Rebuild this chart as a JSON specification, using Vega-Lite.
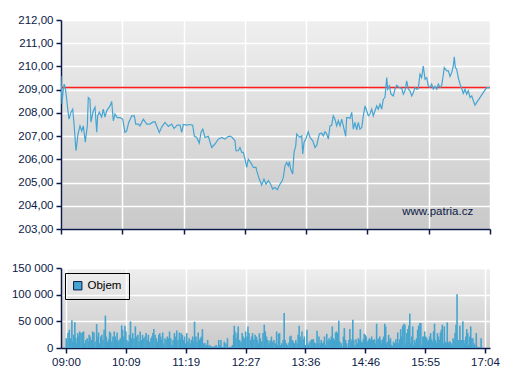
{
  "$schema": "https://vega.github.io/schema/vega-lite/v6.json",
  "padding": {"left": 11, "top": 14, "right": 9, "bottom": 5},
  "background": "white",
  "spacing": 27,
  "config": {
    "font": "Liberation Sans",
    "view": {"stroke": null, "fill": {"gradient": "linear", "x1": 0, "y1": 0, "x2": 0, "y2": 1, "stops": [{"offset": 0, "color": "#efefef"}, {"offset": 1, "color": "#c9c9c9"}]}},
    "axis": {"labelFont": "Liberation Sans", "labelFontSize": 11.5, "labelColor": "#0b1a48", "domainColor": "#0b1a48", "domainWidth": 1.5, "tickColor": "#0b1a48", "tickWidth": 1.5, "tickSize": 5, "gridColor": "#ffffff", "gridWidth": 1.5, "gridOpacity": 1, "title": null, "labelPadding": 3, "labelOverlap": false}
  },
  "datasets": {
    "price": [
      {"m":0,"p":209.59},{"m":1.1,"p":208.38},{"m":2.6,"p":209.02},{"m":3.7,"p":209.24},{"m":5.3,"p":208.95},{"m":6.4,"p":208.6},{"m":7.6,"p":208.16},{"m":9.0,"p":207.73},{"m":11.3,"p":208.03},{"m":13.2,"p":208.16},{"m":14.7,"p":207.52},{"m":16.9,"p":206.37},{"m":18.1,"p":206.74},{"m":19.2,"p":207.09},{"m":21.4,"p":207.44},{"m":23.4,"p":207.22},{"m":25.2,"p":207.44},{"m":27.4,"p":206.74},{"m":29.7,"p":207.44},{"m":30.8,"p":208.66},{"m":32.7,"p":208.59},{"m":33.8,"p":207.6},{"m":36.4,"p":208.09},{"m":38.4,"p":208.24},{"m":40.3,"p":207.17},{"m":41.4,"p":207.87},{"m":43.2,"p":208.03},{"m":45.9,"p":207.82},{"m":47.7,"p":208.16},{"m":49.6,"p":207.82},{"m":51.5,"p":208.09},{"m":55.3,"p":208.30},{"m":57.2,"p":208.49},{"m":59.0,"p":207.66},{"m":60.9,"p":207.95},{"m":63.5,"p":207.8},{"m":66.6,"p":207.8},{"m":69.6,"p":207.73},{"m":72.2,"p":207.16},{"m":74.1,"p":207.22},{"m":76.4,"p":207.59},{"m":79.8,"p":207.87},{"m":82.7,"p":207.87},{"m":84.3,"p":207.52},{"m":87.2,"p":207.52},{"m":89.1,"p":207.44},{"m":92.9,"p":207.73},{"m":96.7,"p":207.52},{"m":100.4,"p":207.52},{"m":103.5,"p":207.6},{"m":106.1,"p":207.62},{"m":110.9,"p":207.16},{"m":113.6,"p":207.39},{"m":117.3,"p":207.59},{"m":121.1,"p":207.42},{"m":124.9,"p":207.52},{"m":127.5,"p":207.33},{"m":131.2,"p":207.47},{"m":134.3,"p":207.47},{"m":136.2,"p":207.16},{"m":138.0,"p":207.5},{"m":141.8,"p":207.47},{"m":145.5,"p":207.5},{"m":148.6,"p":207.47},{"m":150.4,"p":207.0},{"m":153.1,"p":206.94},{"m":156.0,"p":206.7},{"m":157.9,"p":207.16},{"m":159.9,"p":207.3},{"m":162.5,"p":206.94},{"m":166.2,"p":206.99},{"m":170.0,"p":206.51},{"m":173.7,"p":206.66},{"m":177.5,"p":206.87},{"m":181.3,"p":206.94},{"m":185.0,"p":206.87},{"m":188.1,"p":206.97},{"m":190.7,"p":207.0},{"m":193.3,"p":206.94},{"m":196.3,"p":206.8},{"m":197.4,"p":206.37},{"m":200.0,"p":206.37},{"m":201.9,"p":206.51},{"m":203.9,"p":206.3},{"m":205.7,"p":206.3},{"m":207.6,"p":206.01},{"m":209.5,"p":205.65},{"m":211.3,"p":206.01},{"m":214.0,"p":205.87},{"m":217.0,"p":205.65},{"m":220.0,"p":205.65},{"m":220.8,"p":205.51},{"m":223.7,"p":205.15},{"m":226.4,"p":204.89},{"m":229.0,"p":205.15},{"m":231.3,"p":204.93},{"m":233.9,"p":205.08},{"m":236.6,"p":204.93},{"m":238.8,"p":204.72},{"m":241.4,"p":204.79},{"m":244.0,"p":204.69},{"m":247.1,"p":204.94},{"m":249.0,"p":205.03},{"m":250.8,"p":205.22},{"m":252.7,"p":205.72},{"m":254.6,"p":205.87},{"m":256.4,"p":205.72},{"m":257.6,"p":205.9},{"m":259.1,"p":205.58},{"m":261.4,"p":205.37},{"m":262.9,"p":206.3},{"m":264.8,"p":206.58},{"m":265.9,"p":207.09},{"m":267.7,"p":207.01},{"m":269.6,"p":206.94},{"m":271.6,"p":207.01},{"m":272.7,"p":206.23},{"m":274.2,"p":206.73},{"m":276.4,"p":206.9},{"m":279.0,"p":207.19},{"m":280.9,"p":206.94},{"m":284.0,"p":206.8},{"m":286.6,"p":206.51},{"m":288.5,"p":206.61},{"m":291.4,"p":207.09},{"m":294.1,"p":207.13},{"m":295.9,"p":207.01},{"m":297.8,"p":207.19},{"m":299.8,"p":207.09},{"m":301.6,"p":206.87},{"m":303.5,"p":207.44},{"m":305.4,"p":207.47},{"m":307.2,"p":207.87},{"m":309.1,"p":207.73},{"m":311.0,"p":207.44},{"m":312.9,"p":207.66},{"m":314.8,"p":207.44},{"m":316.7,"p":207.73},{"m":318.5,"p":207.44},{"m":321.2,"p":206.99},{"m":322.3,"p":207.8},{"m":324.1,"p":207.8},{"m":326.0,"p":207.76},{"m":328.0,"p":208.02},{"m":329.8,"p":207.3},{"m":331.7,"p":207.59},{"m":333.6,"p":207.27},{"m":335.4,"p":207.59},{"m":337.3,"p":207.3},{"m":339.3,"p":207.37},{"m":341.1,"p":207.87},{"m":343.0,"p":208.30},{"m":344.9,"p":208.09},{"m":346.7,"p":207.87},{"m":348.6,"p":207.95},{"m":350.5,"p":208.16},{"m":352.3,"p":207.87},{"m":354.3,"p":208.09},{"m":356.2,"p":208.30},{"m":358.0,"p":208.16},{"m":359.9,"p":208.38},{"m":361.8,"p":208.16},{"m":363.6,"p":208.59},{"m":365.5,"p":208.66},{"m":367.5,"p":209.52},{"m":368.6,"p":209.02},{"m":370.4,"p":209.16},{"m":372.3,"p":208.81},{"m":374.9,"p":208.73},{"m":376.8,"p":209.02},{"m":378.7,"p":209.19},{"m":381.7,"p":209.09},{"m":384.4,"p":209.05},{"m":386.2,"p":208.81},{"m":388.1,"p":208.95},{"m":390.0,"p":209.38},{"m":391.8,"p":209.02},{"m":393.7,"p":208.95},{"m":395.7,"p":208.73},{"m":397.5,"p":208.88},{"m":399.4,"p":209.09},{"m":401.3,"p":209.02},{"m":403.1,"p":209.05},{"m":405.0,"p":209.67},{"m":406.9,"p":209.52},{"m":408.7,"p":210.02},{"m":410.7,"p":209.45},{"m":412.6,"p":209.52},{"m":414.4,"p":209.16},{"m":416.3,"p":209.09},{"m":418.2,"p":209.24},{"m":420.0,"p":209.02},{"m":422.0,"p":209.14},{"m":423.9,"p":209.02},{"m":425.7,"p":209.24},{"m":427.6,"p":209.09},{"m":429.5,"p":209.19},{"m":430.6,"p":209.45},{"m":432.4,"p":209.95},{"m":435.2,"p":209.81},{"m":437.0,"p":209.81},{"m":438.9,"p":209.57},{"m":440.8,"p":209.74},{"m":442.6,"p":210.02},{"m":443.7,"p":210.42},{"m":444.9,"p":209.95},{"m":446.4,"p":209.88},{"m":448.2,"p":209.52},{"m":450.2,"p":209.24},{"m":452.1,"p":209.05},{"m":453.9,"p":208.84},{"m":455.8,"p":209.02},{"m":457.7,"p":208.81},{"m":459.5,"p":208.95},{"m":461.5,"p":208.66},{"m":463.4,"p":208.73},{"m":465.2,"p":208.52},{"m":467.1,"p":208.33},{"m":469.0,"p":208.45},{"m":472.7,"p":208.66},{"m":476.5,"p":208.88},{"m":480.3,"p":209.09},{"m":484.0,"p":209.09}
    ],
    "volume": [
      {"m":0.3,"v":18400},{"m":1.1,"v":12000},{"m":2.3,"v":27900},{"m":3.8,"v":34200},{"m":4.9,"v":18400},{"m":6.8,"v":51900},{"m":7.9,"v":12000},{"m":9.0,"v":24700},{"m":10.2,"v":48100},{"m":11.3,"v":18400},{"m":12.4,"v":8900},{"m":13.5,"v":27900},{"m":14.7,"v":21500},{"m":15.8,"v":31000},{"m":17.3,"v":27900},{"m":18.8,"v":29100},{"m":20.3,"v":31000},{"m":21.4,"v":8900},{"m":22.9,"v":15200},{"m":24.4,"v":18400},{"m":26.0,"v":12000},{"m":26.7,"v":24700},{"m":27.8,"v":21500},{"m":29.3,"v":15200},{"m":30.8,"v":31000},{"m":32.3,"v":29100},{"m":33.5,"v":12000},{"m":35.4,"v":44900},{"m":36.5,"v":21500},{"m":37.6,"v":29100},{"m":38.7,"v":8900},{"m":40.2,"v":21500},{"m":41.4,"v":24700},{"m":42.5,"v":15200},{"m":44.0,"v":34200},{"m":45.5,"v":60800},{"m":46.6,"v":21500},{"m":48.1,"v":12000},{"m":49.3,"v":16500},{"m":50.4,"v":31000},{"m":51.5,"v":27900},{"m":53.0,"v":12000},{"m":54.2,"v":21500},{"m":55.7,"v":31000},{"m":56.8,"v":21500},{"m":57.9,"v":15200},{"m":59.0,"v":29100},{"m":60.2,"v":12000},{"m":61.3,"v":15200},{"m":62.8,"v":18400},{"m":64.3,"v":42400},{"m":65.4,"v":34200},{"m":66.6,"v":21500},{"m":68.1,"v":41800},{"m":69.2,"v":31000},{"m":70.3,"v":15200},{"m":71.8,"v":12000},{"m":73.3,"v":24700},{"m":74.5,"v":50000},{"m":75.6,"v":18400},{"m":77.1,"v":27900},{"m":78.6,"v":18400},{"m":80.1,"v":40500},{"m":81.6,"v":21500},{"m":83.1,"v":24700},{"m":84.6,"v":12000},{"m":85.7,"v":31000},{"m":86.9,"v":15200},{"m":88.4,"v":24700},{"m":89.9,"v":18400},{"m":91.4,"v":21500},{"m":92.5,"v":27900},{"m":94.0,"v":15200},{"m":95.1,"v":24700},{"m":96.6,"v":12000},{"m":98.2,"v":18400},{"m":99.3,"v":21500},{"m":100.4,"v":27900},{"m":101.5,"v":35400},{"m":103.0,"v":24700},{"m":104.5,"v":18400},{"m":105.7,"v":12000},{"m":107.2,"v":24700},{"m":108.3,"v":27900},{"m":109.4,"v":21500},{"m":110.6,"v":15200},{"m":111.7,"v":29100},{"m":113.2,"v":8900},{"m":114.3,"v":18400},{"m":115.8,"v":15200},{"m":117.0,"v":21500},{"m":118.1,"v":18400},{"m":119.6,"v":31000},{"m":121.1,"v":18400},{"m":122.6,"v":5700},{"m":123.7,"v":15200},{"m":125.2,"v":27900},{"m":126.7,"v":21500},{"m":127.9,"v":32900},{"m":129.4,"v":15200},{"m":130.9,"v":29100},{"m":132.0,"v":18400},{"m":133.1,"v":27900},{"m":134.3,"v":24700},{"m":135.8,"v":15200},{"m":136.9,"v":21500},{"m":138.4,"v":8900},{"m":139.5,"v":27900},{"m":141.0,"v":12000},{"m":142.2,"v":18400},{"m":143.3,"v":8900},{"m":144.8,"v":15200},{"m":146.3,"v":21500},{"m":147.4,"v":12000},{"m":148.5,"v":49400},{"m":150.1,"v":21500},{"m":151.2,"v":12000},{"m":152.7,"v":29100},{"m":154.2,"v":15200},{"m":155.3,"v":18400},{"m":156.4,"v":21500},{"m":157.6,"v":35400},{"m":159.1,"v":8900},{"m":160.6,"v":8900},{"m":162.1,"v":5700},{"m":163.6,"v":15200},{"m":164.7,"v":2500},{"m":165.8,"v":5700},{"m":167.7,"v":3800},{"m":169.6,"v":2500},{"m":171.5,"v":3800},{"m":173.4,"v":5700},{"m":175.3,"v":2500},{"m":176.4,"v":15200},{"m":177.9,"v":5700},{"m":179.0,"v":15200},{"m":180.9,"v":2500},{"m":182.8,"v":12000},{"m":184.7,"v":8900},{"m":186.5,"v":18400},{"m":188.4,"v":1300},{"m":190.3,"v":2500},{"m":192.2,"v":5700},{"m":193.7,"v":24700},{"m":194.4,"v":41800},{"m":195.2,"v":31000},{"m":196.3,"v":18400},{"m":197.8,"v":27900},{"m":198.9,"v":40500},{"m":200.4,"v":15200},{"m":202.0,"v":12000},{"m":203.5,"v":27900},{"m":204.6,"v":21500},{"m":206.1,"v":18400},{"m":207.6,"v":31000},{"m":209.1,"v":21500},{"m":210.2,"v":40500},{"m":211.4,"v":27900},{"m":212.9,"v":15200},{"m":214.4,"v":21500},{"m":215.5,"v":27900},{"m":217.0,"v":16500},{"m":218.5,"v":24700},{"m":220.0,"v":21500},{"m":221.1,"v":15200},{"m":222.3,"v":8900},{"m":223.4,"v":27900},{"m":224.5,"v":18400},{"m":226.0,"v":12000},{"m":227.5,"v":27900},{"m":229.0,"v":43700},{"m":230.2,"v":31000},{"m":231.7,"v":21500},{"m":233.2,"v":15200},{"m":234.7,"v":8900},{"m":235.8,"v":13900},{"m":237.3,"v":21500},{"m":238.8,"v":12000},{"m":240.3,"v":15200},{"m":241.8,"v":8900},{"m":243.3,"v":31000},{"m":244.4,"v":5700},
      {"m":245.6,"v":26600},{"m":246.7,"v":27900},{"m":248.2,"v":5700},{"m":249.3,"v":8900},{"m":250.8,"v":15200},{"m":252.0,"v":65800},{"m":253.1,"v":15200},{"m":254.6,"v":8900},{"m":255.7,"v":5700},{"m":257.6,"v":10100},{"m":258.7,"v":21500},{"m":259.9,"v":22800},{"m":261.4,"v":15200},{"m":262.5,"v":12000},{"m":264.0,"v":8900},{"m":265.5,"v":15200},{"m":267.0,"v":8900},{"m":268.1,"v":24700},{"m":269.3,"v":41800},{"m":270.4,"v":21500},{"m":271.5,"v":15200},{"m":272.6,"v":31000},{"m":274.2,"v":16500},{"m":275.3,"v":21500},{"m":276.4,"v":5700},{"m":278.3,"v":34200},{"m":279.4,"v":8900},{"m":280.5,"v":5700},{"m":281.7,"v":12000},{"m":283.2,"v":15200},{"m":284.3,"v":16500},{"m":285.8,"v":16500},{"m":286.9,"v":10100},{"m":288.4,"v":8900},{"m":290.0,"v":32300},{"m":291.1,"v":8900},{"m":292.2,"v":21500},{"m":293.7,"v":8900},{"m":294.8,"v":15200},{"m":296.3,"v":8900},{"m":297.5,"v":12000},{"m":298.6,"v":21500},{"m":300.1,"v":5700},{"m":301.2,"v":26600},{"m":302.7,"v":13900},{"m":303.9,"v":18400},{"m":305.4,"v":15200},{"m":306.5,"v":21500},{"m":307.6,"v":40500},{"m":308.8,"v":18400},{"m":309.9,"v":15200},{"m":311.4,"v":29100},{"m":312.5,"v":31000},{"m":313.6,"v":27900},{"m":315.1,"v":51300},{"m":316.3,"v":12000},{"m":317.8,"v":8900},{"m":318.9,"v":3800},{"m":320.4,"v":21500},{"m":321.5,"v":37300},{"m":323.0,"v":15200},{"m":324.2,"v":8900},{"m":325.7,"v":2500},{"m":326.8,"v":15200},{"m":327.9,"v":35400},{"m":329.1,"v":16500},{"m":330.2,"v":12000},{"m":331.3,"v":53200},{"m":332.4,"v":15200},{"m":334.0,"v":5700},{"m":335.1,"v":16500},{"m":336.6,"v":8900},{"m":337.7,"v":18400},{"m":338.8,"v":15200},{"m":340.0,"v":35400},{"m":341.1,"v":12000},{"m":342.2,"v":10100},{"m":343.4,"v":16500},{"m":344.5,"v":26600},{"m":345.6,"v":24700},{"m":346.7,"v":21500},{"m":347.9,"v":12000},{"m":349.4,"v":15200},{"m":350.5,"v":18400},{"m":351.6,"v":16500},{"m":353.1,"v":21500},{"m":354.3,"v":15200},{"m":355.4,"v":15200},{"m":356.5,"v":16500},{"m":357.6,"v":8900},{"m":358.8,"v":45600},{"m":360.3,"v":16500},{"m":361.4,"v":18400},{"m":362.5,"v":21500},{"m":363.7,"v":15200},{"m":364.8,"v":8900},{"m":365.9,"v":16500},{"m":367.0,"v":21500},{"m":368.2,"v":45600},{"m":369.3,"v":40500},{"m":370.4,"v":8900},{"m":371.6,"v":12000},{"m":372.7,"v":24700},{"m":373.8,"v":15200},{"m":374.9,"v":18400},{"m":376.1,"v":5700},{"m":377.2,"v":3800},{"m":378.3,"v":12000},{"m":379.5,"v":8900},{"m":381.0,"v":16500},{"m":382.1,"v":10100},{"m":383.2,"v":29100},{"m":384.3,"v":8900},{"m":385.5,"v":16500},{"m":386.6,"v":35400},{"m":387.7,"v":21500},{"m":388.9,"v":41800},{"m":390.4,"v":45600},{"m":391.5,"v":43700},{"m":392.6,"v":8900},{"m":393.7,"v":27900},{"m":394.9,"v":35400},{"m":396.0,"v":41800},{"m":397.1,"v":64600},{"m":398.3,"v":8900},{"m":399.4,"v":21500},{"m":400.5,"v":40500},{"m":401.6,"v":5700},{"m":402.8,"v":15200},{"m":403.9,"v":10100},{"m":405.0,"v":18400},{"m":406.2,"v":34200},{"m":407.3,"v":41800},{"m":408.8,"v":46800},{"m":409.9,"v":46800},{"m":411.0,"v":5700},{"m":412.2,"v":21500},{"m":413.3,"v":21500},{"m":414.4,"v":31000},{"m":415.6,"v":21500},{"m":416.7,"v":18400},{"m":417.8,"v":12000},{"m":418.9,"v":15200},{"m":420.1,"v":21500},{"m":421.2,"v":27900},{"m":422.3,"v":16500},{"m":423.5,"v":12000},{"m":424.6,"v":31000},{"m":425.7,"v":45600},{"m":426.8,"v":15200},{"m":428.0,"v":10100},{"m":429.1,"v":27900},{"m":430.2,"v":21500},{"m":431.4,"v":15200},{"m":432.5,"v":29100},{"m":433.6,"v":34200},{"m":434.7,"v":43700},{"m":435.9,"v":8900},{"m":437.0,"v":40500},{"m":438.1,"v":12000},{"m":439.3,"v":10100},{"m":440.4,"v":48100},{"m":441.5,"v":8900},{"m":442.6,"v":12000},{"m":443.8,"v":12000},{"m":444.9,"v":8900},{"m":446.0,"v":5700},{"m":447.1,"v":18400},{"m":448.3,"v":15200},{"m":449.4,"v":27900},{"m":450.5,"v":43700},{"m":451.7,"v":100600},{"m":452.8,"v":15200},{"m":453.9,"v":15200},{"m":455.0,"v":41800},{"m":456.2,"v":15200},{"m":457.3,"v":15200},{"m":458.4,"v":50000},{"m":459.6,"v":15200},{"m":460.7,"v":8900},{"m":461.8,"v":21500},{"m":462.9,"v":35400},{"m":464.1,"v":27900},{"m":465.2,"v":5700},{"m":466.3,"v":21500},{"m":467.5,"v":40500},{"m":468.6,"v":18400},{"m":470.1,"v":18400},{"m":471.2,"v":8900},{"m":472.3,"v":5700},{"m":473.9,"v":27900},{"m":475.0,"v":2500},{"m":476.5,"v":1300},{"m":478.0,"v":1300},{"m":479.5,"v":18400}
    ]
  },
  "vconcat": [
    {
      "width": 429,
      "height": 209,
      "layer": [
        {
          "data": {"values": [{"ref": 209.09}]},
          "mark": {"type": "rule", "stroke": "#ff1f1f", "strokeWidth": 1.5, "opacity": 1},
          "encoding": {"y": {"field": "ref", "type": "quantitative", "scale": {"domain": [203, 212], "nice": false, "zero": false}}}
        },
        {
          "data": {"name": "price"},
          "mark": {"type": "line", "color": "#45a5d2", "strokeWidth": 1.2, "clip": true},
          "encoding": {
            "x": {"field": "m", "type": "quantitative", "scale": {"domain": [0, 484], "nice": false, "zero": false},
                  "axis": {"values": [0, 69.1428, 138.2857, 207.4286, 276.5714, 345.7143, 414.8571, 484], "labels": false, "grid": true}},
            "y": {"field": "p", "type": "quantitative", "scale": {"domain": [203, 212], "nice": false, "zero": false},
                  "axis": {"values": [203, 204, 205, 206, 207, 208, 209, 210, 211, 212], "grid": true, "labelOverlap": false, "labelBound": false, "tickCount": 10, "labelExpr": "replace(format(datum.value, '.2f'), '.', ',')"}}
          }
        },
        {
          "data": {"values": [{"m": 425, "p": 203.72, "t": "www.patria.cz"}]},
          "mark": {"type": "text", "color": "#0b1a48", "fontSize": 11.5, "font": "Liberation Sans"},
          "encoding": {
            "x": {"field": "m", "type": "quantitative"},
            "y": {"field": "p", "type": "quantitative"},
            "text": {"field": "t"}
          }
        }
      ]
    },
    {
      "width": 429,
      "height": 80,
      "data": {"name": "volume"},
      "mark": {"type": "bar", "orient": "vertical", "size": 1.6, "clip": true},
      "encoding": {
        "x": {"field": "m", "type": "quantitative", "scale": {"domain": [0, 484], "nice": false, "zero": false},
              "axis": {"values": [0, 69.1428, 138.2857, 207.4286, 276.5714, 345.7143, 414.8571, 484], "grid": true,
                       "labelExpr": "['09:00','10:09','11:19','12:27','13:36','14:46','15:55','17:04'][round(datum.value/69.1428)]"}},
        "y": {"field": "v", "type": "quantitative", "scale": {"domain": [0, 150000], "nice": false},
              "axis": {"values": [0, 50000, 100000, 150000], "grid": true, "labelExpr": "datum.value == 0 ? '0' : format(datum.value/1000, 'd') + ' 000'"}},
        "color": {"datum": "Objem", "scale": {"range": ["#45a5cf"]},
                  "legend": {"title": null, "orient": "none", "legendX": 4, "legendY": 5, "strokeColor": "#000000", "padding": 7, "symbolType": "square", "symbolSize": 70, "symbolStrokeColor": "#0b1a48", "symbolStrokeWidth": 1, "symbolOpacity": 1, "labelFontSize": 11.5, "labelColor": "#000000", "labelFont": "Liberation Sans"}}
      }
    }
  ],
  "resolve": {"scale": {"color": "independent"}, "legend": {"color": "independent"}}
}
